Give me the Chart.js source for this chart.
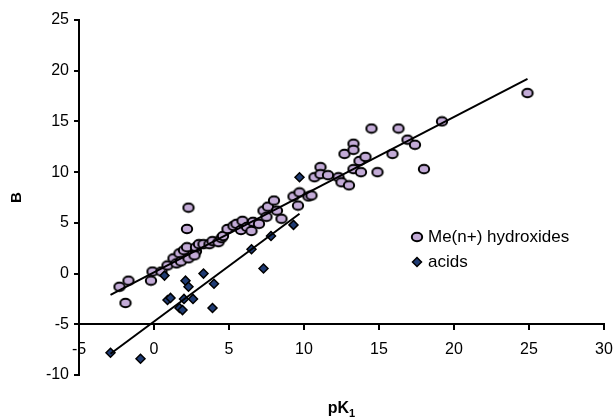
<!DOCTYPE html>
<html lang="en">
<head>
  <meta charset="UTF-8" />
  <title>B vs pK1</title>
  <script src="https://cdn.jsdelivr.net/npm/chart.js"></script>
  <style>
    body {
      margin: 0;
      background: #ffffff;
    }
    canvas {
      display: block;
    }
  </style>
</head>
<body>

<canvas id="scatterChart" width="615" height="419"></canvas>

<script>
  // Me(n+) hydroxides: pK1 and B
  const hydroxideX = [-2.3, -1.7, -1.9, -0.1, -0.2, 0.5, 0.9, 1.3, 1.5, 1.7, 1.8, 2.0, 2.3, 2.2, 2.8, 2.8, 2.7, 3.0, 3.3, 3.7,
    3.9, 4.3, 4.5, 4.6, 4.9, 5.3, 5.5, 5.9, 5.8, 6.2, 6.5, 6.6, 7.0, 7.3, 7.5, 7.6, 8.0, 8.2, 8.5, 9.3,
    9.7, 9.6, 10.3, 10.5, 10.7, 11.1, 11.1, 11.6, 12.3, 12.5, 13.0, 12.7, 13.3, 13.3, 13.7, 14.1, 13.3, 13.8, 14.9, 14.5,
    15.9, 16.3, 16.9, 17.4, 18.0, 19.2, 24.9, 2.3, 2.2];
  const hydroxideY = [-1.3, -0.7, -2.9, 0.2, -0.7, 0.2, 0.8, 1.5, 1.0, 2.0, 1.2, 2.3, 1.5, 2.6, 2.2, 2.6, 1.8, 2.9, 2.9, 2.9,
    3.2, 3.1, 3.5, 3.7, 4.4, 4.7, 4.9, 5.2, 4.3, 4.6, 4.2, 5.1, 4.9, 6.2, 5.6, 6.6, 7.2, 6.2, 5.4, 7.6,
    8.0, 6.7, 7.6, 7.7, 9.5, 10.5, 9.8, 9.7, 9.5, 9.0, 8.7, 11.8, 12.8, 12.2, 11.1, 11.5, 10.3, 10.0, 10.0, 14.3,
    11.8, 14.3, 13.2, 12.7, 10.3, 15.0, 17.8, 6.5, 4.4];

  // acids: pK1 and B
  const acidX = [-2.9, -0.9, 0.7, 0.9, 1.1, 1.7, 1.9, 2.0, 2.1, 2.3, 2.6, 3.3, 3.9, 4.0, 6.5, 7.3, 7.8, 9.3, 9.7];
  const acidY = [-7.8, -8.4, -0.2, -2.6, -2.4, -3.4, -3.6, -2.5, -0.7, -1.3, -2.5, 0.0, -3.4, -1.0, 2.4, 0.5, 3.7, 4.8, 9.5];

  // trend lines (end points)
  const hydroxideFitX = [-2.9, 24.9];
  const hydroxideFitY = [-2.1, 19.2];
  const acidFitX = [-2.9, 9.7];
  const acidFitY = [-7.9, 5.9];

  const xTicks = [-5, 0, 5, 10, 15, 20, 25, 30];
  const yTicks = [-10, -5, 0, 5, 10, 15, 20, 25];

  const toPoints = (xs, ys) => xs.map((x, i) => ({ x: x, y: ys[i] }));

  const FONT = 'Liberation Sans, Arial, sans-serif';
  const LAVENDER = '#c3abd7';
  const NAVY = '#1f3b73';

  // ellipse marker (slightly wider than tall, like the Excel one)
  function makeEllipse() {
    const c = document.createElement('canvas');
    c.width = 14;
    c.height = 12;
    const g = c.getContext('2d');
    g.beginPath();
    g.ellipse(7, 6, 5.2, 4.3, 0, 0, Math.PI * 2);
    g.fillStyle = LAVENDER;
    g.fill();
    g.lineWidth = 2;
    g.strokeStyle = '#000';
    g.stroke();
    return c;
  }
  const ellipseImg = makeEllipse();

  // legend drawn inside the plot area
  const innerLegend = {
    id: 'innerLegend',
    afterDraw(chart) {
      const ctx = chart.ctx;
      const x = 417, y1 = 237, y2 = 262;
      ctx.save();
      ctx.drawImage(ellipseImg, x - 7, y1 - 6);
      ctx.fillStyle = NAVY;
      ctx.strokeStyle = '#000';
      ctx.lineWidth = 1.5;
      ctx.beginPath();
      ctx.moveTo(x - 4.5, y2);
      ctx.lineTo(x, y2 - 4.5);
      ctx.lineTo(x + 4.5, y2);
      ctx.lineTo(x, y2 + 4.5);
      ctx.closePath();
      ctx.fill();
      ctx.stroke();
      ctx.fillStyle = '#000';
      ctx.font = '17px ' + FONT;
      ctx.textBaseline = 'middle';
      ctx.textAlign = 'left';
      ctx.fillText(chart.data.datasets[0].label, x + 11, y1);
      ctx.fillText(chart.data.datasets[1].label, x + 11, y2);
      ctx.restore();
    }
  };

  // x axis title with subscript, centered under the plot
  const xTitle = {
    id: 'xTitle',
    afterDraw(chart) {
      const ctx = chart.ctx;
      const area = chart.chartArea;
      ctx.save();
      ctx.fillStyle = '#000';
      ctx.textBaseline = 'alphabetic';
      ctx.font = 'bold 16px ' + FONT;
      const w1 = ctx.measureText('pK').width;
      ctx.font = 'bold 11px ' + FONT;
      const w2 = ctx.measureText('1').width;
      const cx = (area.left + area.right) / 2;
      const start = cx - (w1 + w2) / 2;
      ctx.font = 'bold 16px ' + FONT;
      ctx.fillText('pK', start, 413);
      ctx.font = 'bold 11px ' + FONT;
      ctx.fillText('1', start + w1, 417);
      ctx.restore();
    }
  };

  const ctx = document.getElementById('scatterChart').getContext('2d');
  const chart = new Chart(ctx, {
    type: 'scatter',
    data: {
      datasets: [
        {
          label: 'Me(n+) hydroxides',
          data: toPoints(hydroxideX, hydroxideY),
          pointStyle: ellipseImg,
          pointRadius: 6,
          backgroundColor: LAVENDER,
          borderColor: '#000',
          order: 3
        },
        {
          label: 'acids',
          data: toPoints(acidX, acidY),
          pointStyle: 'rectRot',
          pointRadius: 4.5,
          backgroundColor: NAVY,
          borderColor: '#000',
          borderWidth: 1.5,
          order: 2
        },
        {
          type: 'line',
          label: 'hydroxides fit',
          data: toPoints(hydroxideFitX, hydroxideFitY),
          borderColor: '#000',
          borderWidth: 2,
          pointRadius: 0,
          fill: false,
          order: 1
        },
        {
          type: 'line',
          label: 'acids fit',
          data: toPoints(acidFitX, acidFitY),
          borderColor: '#000',
          borderWidth: 2,
          pointRadius: 0,
          fill: false,
          order: 1
        }
      ]
    },
    options: {
      responsive: false,
      animation: false,
      layout: {
        padding: { top: 20, right: 11, bottom: 44, left: 0 }
      },
      plugins: {
        legend: { display: false },
        tooltip: { enabled: false }
      },
      scales: {
        x: {
          type: 'linear',
          min: -5,
          max: 30,
          position: { y: -5 },
          afterBuildTicks: (s) => { s.ticks = xTicks.map(v => ({ value: v })); },
          // labels may hang over the edges, like the original
          afterFit: (s) => { s.paddingLeft = 0; s.paddingRight = 0; },
          ticks: {
            color: '#000',
            font: { family: FONT, size: 16 },
            padding: 11,
            maxRotation: 0
          },
          grid: {
            display: true,
            drawOnChartArea: false,
            drawTicks: true,
            tickLength: 5,
            color: '#000',
            lineWidth: 2
          },
          border: { display: true, color: '#000', width: 2 }
        },
        y: {
          type: 'linear',
          min: -10,
          max: 25,
          afterBuildTicks: (s) => { s.ticks = yTicks.map(v => ({ value: v })); },
          afterFit: (s) => { s.width = 79; },
          ticks: {
            color: '#000',
            font: { family: FONT, size: 16 },
            padding: 5
          },
          grid: {
            display: true,
            drawOnChartArea: false,
            drawTicks: true,
            tickLength: 5,
            color: '#000',
            lineWidth: 2
          },
          border: { display: true, color: '#000', width: 2 },
          title: {
            display: true,
            text: 'B',
            color: '#000',
            font: { family: FONT, size: 15, weight: 'bold' },
            padding: { top: 8, bottom: 0 }
          }
        }
      }
    },
    plugins: [innerLegend, xTitle]
  });
</script>

</body>
</html>
